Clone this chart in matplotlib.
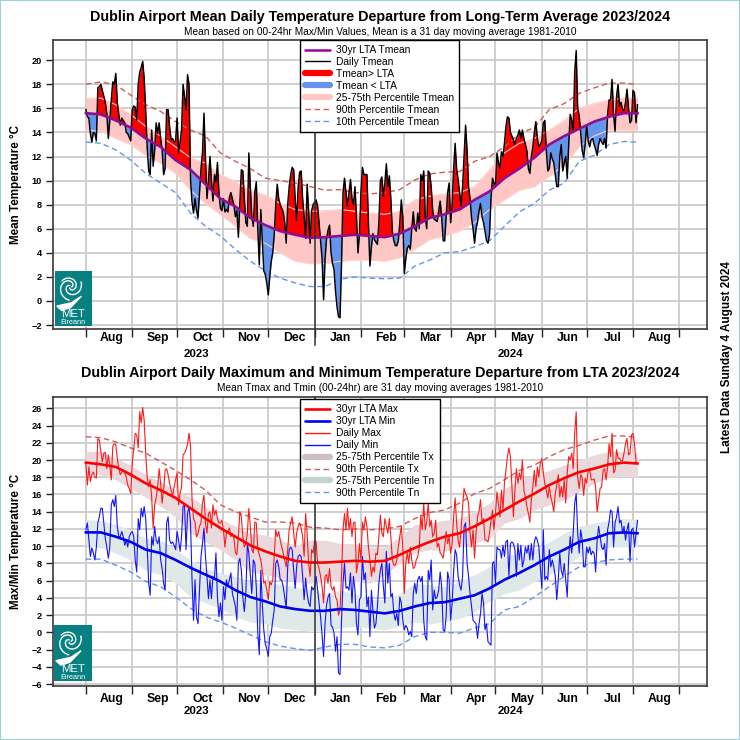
import numpy as np
import matplotlib
matplotlib.use("Agg")
import matplotlib.pyplot as plt
from matplotlib.lines import Line2D
from matplotlib.patches import Polygon, Rectangle

plt.rcParams["font.family"] = ["Liberation Sans", "DejaVu Sans"]

# month labels, first one is Aug 2023
months = ["Aug", "Sep", "Oct", "Nov", "Dec", "Jan", "Feb", "Mar", "Apr", "May", "Jun", "Jul", "Aug"]
month_len = [31, 30, 31, 30, 31, 31, 29, 31, 30, 31, 30, 31, 31]

# daily Tmean, Aug 2023 -> 4 Aug 2024, one row per month
tmean = [
    15.9, 15.3, 15.2, 13.9, 13.2, 14.0, 13.9, 13.3, 17.7, 17.8, 18.0, 17.5, 17.0, 16.5, 15.6, 13.5, 15.0, 16.7, 18.2, 18.0, 18.9, 16.5, 15.5, 14.6, 15.2, 15.0, 14.8, 14.0, 13.9, 13.6, 13.3,
    15.9, 16.2, 16.1, 15.0, 18.0, 19.0, 19.4, 19.9, 18.5, 15.8, 12.8, 10.8, 10.5, 14.2, 11.2, 12.5, 14.8, 13.9, 14.8, 13.5, 12.6, 10.5, 11.0, 15.9, 15.9, 14.5, 13.4, 13.5, 13.2, 13.3,
    15.2, 12.3, 13.2, 14.2, 18.0, 17.0, 15.9, 18.8, 18.0, 10.1, 8.2, 7.3, 8.5, 7.5, 6.9, 9.0, 11.0, 12.3, 15.6, 11.8, 8.5, 10.0, 12.0, 10.0, 8.3, 10.5, 9.9, 11.5, 9.0, 7.7, 7.5,
    8.5, 7.4, 7.6, 7.4, 8.6, 9.0, 8.5, 8.0, 7.0, 7.5, 5.3, 8.0, 10.9, 10.8, 8.5, 6.5, 6.2, 12.3, 9.5, 7.0, 6.2, 9.0, 9.9, 6.0, 3.0, 7.6, 5.0, 2.5, 2.2, 1.5,
    0.5, 2.0, 3.3, 4.0, 5.5, 8.0, 9.7, 8.5, 8.0, 7.7, 7.4, 6.5, 4.8, 8.0, 9.5, 10.5, 11.1, 10.9, 8.5, 6.7, 9.5, 10.7, 10.8, 8.5, 7.0, 5.2, 9.7, 7.5, 4.8, 7.5, 8.0,
    8.2, 8.4, 7.9, 6.5, 5.0, 3.5, 0.1, 3.5, 5.2, 5.9, 6.3, 4.0, 3.1, 2.6, 0.8, -0.5, -1.3, -1.4, 3.0, 9.0, 10.2, 9.0, 7.9, 9.0, 10.1, 8.5, 8.0, 9.5, 7.0, 4.0, 5.5,
    9.0, 11.1, 10.5, 10.5, 10.5, 6.5, 2.9, 4.5, 5.6, 5.1, 4.9, 4.7, 6.5, 10.0, 10.3, 8.7, 9.8, 11.4, 9.5, 10.4, 8.5, 5.8, 5.0, 4.6, 4.6, 5.0, 6.5, 8.4, 7.0,
    2.3, 3.5, 4.4, 4.6, 4.3, 6.0, 7.4, 6.0, 5.8, 7.3, 6.0, 10.5, 10.0, 10.8, 7.0, 6.0, 10.8, 10.6, 9.5, 7.5, 6.8, 6.7, 6.6, 7.5, 8.3, 7.0, 5.0, 5.0, 7.0, 9.0, 9.8,
    6.5, 8.0, 11.0, 13.1, 11.0, 10.1, 9.0, 7.9, 9.5, 12.0, 14.6, 12.5, 9.5, 8.5, 6.9, 6.0, 4.8, 6.0, 6.6, 7.5, 8.1, 7.0, 6.5, 5.8, 5.0, 4.8, 5.5, 8.5, 10.2, 9.8,
    9.5, 12.3, 11.5, 11.0, 12.4, 12.0, 13.1, 14.5, 15.3, 15.2, 14.0, 13.7, 13.4, 13.0, 13.5, 13.8, 14.2, 13.5, 14.2, 13.5, 13.0, 12.5, 11.0, 10.6, 12.0, 12.8, 14.0, 14.9, 13.5, 12.8, 13.0,
    13.3, 14.8, 15.0, 12.5, 10.8, 11.0, 12.3, 11.8, 11.5, 10.5, 9.5, 9.5, 12.0, 13.0, 10.8, 11.5, 12.0, 10.2, 13.0, 15.5, 15.0, 14.0, 19.0, 20.8, 16.0, 15.4, 14.0, 12.5, 11.9, 13.0,
    14.6, 13.3, 12.8, 13.4, 13.5, 13.0, 12.6, 12.1, 13.0, 13.5, 13.2, 13.0, 13.5, 12.7, 15.5, 16.7, 16.7, 18.4, 15.5, 14.1, 17.0, 18.0, 16.2, 16.5, 15.9, 15.8, 16.5, 17.6, 16.0, 14.8, 15.0,
    17.5, 17.3, 14.8, 16.3,
]

tmax = [
    19.6, 17.1, 19.2, 17.5, 18.3, 18.6, 18.0, 17.9, 22.5, 22.3, 21.0, 19.8, 20.8, 20.9, 19.0, 20.6, 19.4, 17.7, 21.6, 21.9, 21.8, 20.2, 19.0, 18.3, 18.6, 18.8, 18.5, 18.0, 17.1, 16.7, 16.1,
    19.6, 21.2, 23.1, 22.9, 21.4, 25.6, 24.3, 26.1, 24.6, 20.8, 18.0, 16.9, 17.7, 15.7, 12.1, 14.8, 15.6, 16.9, 19.0, 17.3, 15.0, 16.5, 18.8, 19.0, 18.3, 17.3, 16.5, 15.7, 16.9, 17.7,
    18.5, 14.8, 16.1, 16.9, 20.6, 20.8, 21.2, 21.8, 23.1, 21.6, 15.4, 13.2, 12.8, 11.1, 11.5, 12.3, 12.7, 15.0, 15.9, 12.7, 11.5, 13.8, 14.0, 12.1, 14.8, 13.6, 14.2, 13.2, 12.7, 12.7, 13.0,
    11.9, 9.9, 11.5, 11.7, 12.1, 11.1, 11.5, 10.9, 9.3, 9.0, 11.1, 14.0, 13.4, 11.1, 9.9, 10.3, 11.5, 14.4, 12.3, 9.6, 9.2, 12.8, 12.7, 9.6, 9.0, 8.4, 7.2, 5.7, 5.9, 4.9,
    3.8, 5.9, 5.5, 6.1, 8.8, 11.9, 11.1, 11.7, 10.7, 9.9, 9.2, 8.4, 7.6, 9.6, 11.9, 12.7, 13.4, 11.5, 9.9, 11.5, 12.3, 12.7, 12.1, 11.1, 8.8, 13.8, 11.5, 8.0, 6.5, 9.6, 9.2,
    10.7, 10.5, 8.0, 7.4, 6.5, 5.3, 3.4, 6.5, 6.7, 5.7, 7.4, 5.3, 4.9, 5.3, 4.1, 3.8, 2.0, 2.6, 6.5, 11.9, 13.8, 11.9, 14.4, 11.9, 13.2, 11.1, 12.7, 12.8, 6.9, 8.0, 10.3,
    8.4, 12.8, 11.9, 13.4, 12.3, 9.9, 8.4, 6.5, 7.6, 7.0, 9.2, 9.0, 11.1, 13.6, 11.5, 11.1, 13.2, 12.3, 11.5, 13.2, 11.1, 8.4, 7.8, 7.8, 8.4, 9.9, 11.1, 12.3, 9.9,
    4.5, 8.0, 9.2, 8.0, 9.9, 8.4, 7.4, 7.6, 8.4, 8.8, 9.9, 13.6, 11.9, 15.0, 11.9, 12.8, 15.0, 12.3, 13.0, 11.1, 11.5, 13.0, 9.9, 10.3, 9.2, 9.0, 8.6, 9.9, 11.7, 10.3, 11.1,
    9.2, 10.3, 13.4, 15.6, 12.7, 10.7, 9.9, 11.9, 14.6, 16.7, 16.1, 15.7, 15.0, 11.5, 9.9, 11.9, 8.6, 11.5, 13.4, 14.0, 15.4, 12.7, 13.2, 10.7, 10.7, 10.5, 11.5, 13.0, 14.2, 11.9,
    13.8, 16.3, 14.8, 13.4, 16.5, 14.2, 17.3, 18.8, 20.4, 21.4, 20.4, 16.9, 13.4, 16.5, 19.0, 17.3, 18.5, 17.7, 20.0, 16.5, 15.7, 14.6, 13.8, 12.8, 15.4, 16.9, 18.8, 16.9, 19.2, 18.0, 19.6,
    20.2, 18.5, 17.3, 16.5, 15.6, 16.9, 15.7, 15.0, 14.0, 16.1, 17.1, 18.3, 15.7, 16.9, 15.7, 17.7, 15.0, 18.5, 20.4, 20.0, 20.8, 19.0, 23.1, 25.6, 18.0, 16.7, 18.3, 18.0, 15.9, 17.9,
    17.3, 18.8, 19.0, 17.7, 17.7, 17.8, 16.9, 14.0, 15.4, 16.7, 16.9, 18.8, 19.0, 17.7, 19.2, 21.9, 20.4, 23.1, 18.5, 18.8, 21.2, 20.2, 20.2, 19.9, 19.9, 20.8, 21.9, 22.5, 20.6, 20.8, 22.9,
    23.1, 21.9, 19.8, 19.6,
]

tmin = [
    11.9, 12.7, 10.7, 8.8, 9.8, 9.2, 8.4, 9.9, 12.7, 13.4, 14.4, 14.4, 12.7, 10.9, 9.9, 8.6, 9.9, 14.8, 15.4, 14.6, 15.9, 12.3, 11.1, 11.1, 11.7, 11.1, 10.1, 10.7, 9.9, 11.1, 11.5,
    11.7, 11.1, 8.4, 7.0, 13.2, 11.9, 14.4, 13.4, 14.6, 13.2, 9.9, 5.7, 4.3, 11.1, 10.1, 12.3, 10.7, 10.3, 11.1, 8.4, 7.4, 5.7, 4.9, 12.7, 13.4, 10.7, 10.3, 10.5, 10.1, 9.6,
    11.7, 10.7, 9.4, 11.1, 14.6, 14.8, 9.6, 13.8, 14.6, 12.7, 6.1, 1.4, 6.1, 1.8, 1.0, 4.9, 8.8, 10.3, 12.1, 8.8, 6.5, 3.9, 6.1, 3.9, 6.5, 6.1, 9.2, 4.1, 1.8, 3.4, 1.4,
    5.3, 3.8, 6.1, 5.3, 6.1, 6.9, 4.5, 3.8, 3.0, 1.4, 8.0, 8.6, 7.2, 4.1, 2.4, 4.5, 10.3, 9.2, 6.7, 4.5, 8.4, 8.0, 5.3, -0.1, -2.6, 7.2, 3.4, 0.3, -1.3, -1.9,
    -2.8, -0.5, -0.1, 1.4, 2.6, 8.0, 8.4, 7.6, 6.1, 6.1, 5.3, 4.1, 2.8, 7.6, 9.6, 9.9, 9.6, 7.2, 5.1, 7.6, 8.8, 9.0, 8.8, 6.5, 3.8, 6.3, 4.5, 3.4, 3.0, 5.3, 4.9,
    5.3, 6.5, 4.9, 3.4, 1.8, -0.3, -2.8, 1.0, 3.2, 4.1, 4.5, 0.8, 0.6, -0.1, -2.2, -0.5, -4.7, -4.9, 1.4, 5.7, 8.0, 5.1, 5.3, 4.9, 6.9, 3.4, 6.5, 4.9, 1.0, -0.3, 3.8,
    4.1, 8.8, 6.1, 6.9, 3.0, 4.1, -0.5, 4.9, 2.6, 0.5, 1.0, 3.0, 5.7, 7.2, 8.0, 5.3, 3.4, 9.4, 5.7, 8.0, 4.1, 4.5, 2.2, 1.4, 2.2, 0.8, 4.1, 3.4, 1.4,
    0.3, 0.8, 0.5, -0.3, 0.1, -0.5, 4.5, 5.7, 4.5, 6.1, 6.5, 5.9, 6.5, 1.4, -0.5, -0.9, 7.2, 6.1, 8.4, 2.6, 4.9, 3.9, 4.1, 4.9, 7.0, 5.3, 0.3, 0.1, 1.8, 7.0, 6.1,
    1.4, 3.4, 7.0, 9.6, 9.0, 6.5, 5.5, 4.9, 6.5, 12.3, 12.7, 8.0, 6.5, 4.5, 3.0, 1.4, 1.2, 1.0, -0.7, 1.0, 2.2, 4.5, 3.4, 0.3, 1.0, -1.1, -1.3, -1.5, 8.0, 8.2,
    5.7, 9.9, 9.6, 9.6, 8.6, 10.1, 8.8, 10.5, 10.7, 6.5, 10.3, 10.5, 10.3, 9.6, 6.5, 10.3, 8.4, 10.1, 7.6, 8.4, 9.9, 9.2, 10.1, 8.4, 10.3, 8.4, 10.5, 11.1, 10.7, 9.9, 7.6,
    5.1, 11.9, 6.1, 6.5, 6.1, 9.6, 7.6, 8.4, 7.6, 6.5, 3.8, 6.1, 9.2, 7.2, 6.5, 8.0, 6.1, 4.1, 8.8, 11.1, 9.2, 11.5, 15.0, 16.1, 11.5, 9.2, 11.9, 10.7, 7.6, 7.6,
    9.9, 9.2, 9.9, 9.0, 9.4, 9.2, 7.0, 10.7, 12.3, 11.1, 9.9, 9.6, 10.3, 7.8, 11.9, 12.8, 14.2, 14.0, 9.9, 12.7, 13.4, 14.6, 12.7, 13.0, 11.5, 12.3, 10.7, 11.9, 12.7, 8.2, 11.9,
    12.1, 9.9, 11.5, 13.0,
]

# smooth climatology curves, read every 10 days
clim_days = list(range(0, 370, 10)) + [369]
lta_mean = [15.6, 15.5, 15.0, 14.4, 13.5, 12.8, 11.7, 10.9, 9.7, 8.5, 7.85, 6.9, 6.3, 5.8, 5.5, 5.25, 5.3, 5.4, 5.5, 5.4, 5.3, 5.6, 6.2, 6.9, 7.2, 7.6, 8.4, 9.1, 10.2, 11.0, 11.9, 13.0, 13.7, 14.3, 14.9, 15.3, 15.6, 15.6]
mean_p75 = [16.85, 16.85, 16.3, 15.5, 14.5, 13.7, 12.8, 11.9, 11.45, 10.5, 9.9, 9.2, 8.8, 8.1, 7.6, 7.45, 7.5, 7.6, 7.45, 7.3, 7.2, 7.45, 8.4, 8.7, 8.9, 9.0, 9.5, 10.9, 12.3, 13.1, 13.5, 14.2, 15.0, 16.0, 16.4, 16.7, 16.85, 16.85]
mean_p25 = [14.2, 14.1, 13.5, 13.0, 12.1, 11.45, 10.6, 9.2, 8.1, 7.2, 6.2, 5.2, 4.8, 4.0, 3.3, 3.1, 3.1, 3.3, 3.4, 3.4, 3.3, 3.6, 4.3, 5.1, 5.4, 5.8, 6.5, 7.6, 8.4, 9.2, 9.5, 10.35, 11.3, 12.8, 13.7, 14.2, 14.2, 14.2]
mean_p90 = [18.0, 18.2, 17.95, 17.1, 16.3, 15.75, 14.9, 14.2, 13.7, 12.3, 11.6, 11.0, 10.2, 10.0, 9.8, 9.5, 9.2, 9.25, 9.0, 8.9, 9.0, 9.25, 10.05, 10.55, 10.7, 10.75, 11.6, 12.0, 12.8, 13.9, 14.4, 15.9, 16.4, 17.25, 17.7, 18.1, 18.1, 18.0]
mean_p10 = [13.2, 13.1, 12.55, 11.7, 10.6, 9.8, 9.0, 7.3, 6.2, 5.4, 4.3, 3.3, 2.5, 1.9, 1.5, 1.2, 1.2, 1.8, 2.0, 1.9, 1.85, 1.9, 2.9, 3.4, 4.0, 4.1, 4.5, 5.0, 6.2, 7.4, 8.1, 9.2, 9.8, 11.6, 12.1, 13.0, 13.25, 13.2]

lta_max = [19.7, 19.5, 19.2, 18.3, 17.3, 16.5, 15.6, 14.4, 13.2, 12.1, 11.1, 10.1, 9.4, 8.8, 8.3, 8.1, 8.1, 8.2, 8.3, 8.2, 8.3, 9.0, 9.8, 10.5, 11.1, 11.5, 12.3, 13.2, 14.2, 15.2, 16.1, 17.1, 17.9, 18.6, 19.0, 19.5, 19.7, 19.6]
lta_min = [11.6, 11.6, 11.1, 10.5, 9.6, 9.2, 8.4, 7.5, 6.7, 5.9, 4.9, 4.1, 3.6, 3.0, 2.7, 2.5, 2.5, 2.7, 2.6, 2.4, 2.2, 2.5, 3.0, 3.4, 3.5, 3.9, 4.3, 5.1, 6.1, 6.9, 7.8, 8.8, 9.6, 10.5, 10.9, 11.5, 11.6, 11.5]
tx_p75 = [21.0, 21.0, 20.2, 19.4, 18.3, 17.5, 16.5, 15.7, 14.6, 13.2, 12.3, 11.5, 11.3, 10.7, 10.1, 10.7, 10.7, 10.3, 10.3, 9.9, 9.9, 11.1, 12.5, 12.7, 13.0, 13.2, 14.0, 15.0, 16.7, 17.7, 18.3, 18.8, 19.4, 20.0, 20.6, 21.0, 21.0, 20.8]
tx_p25 = [18.5, 18.3, 17.7, 16.7, 15.7, 14.6, 13.4, 11.5, 10.5, 9.6, 8.4, 7.0, 6.7, 6.3, 5.9, 5.7, 5.9, 5.9, 5.9, 5.7, 6.7, 8.0, 9.2, 9.6, 9.4, 9.9, 10.3, 10.9, 12.7, 13.2, 14.2, 14.8, 15.4, 16.3, 17.3, 18.0, 18.1, 18.0]
tn_p75 = [13.1, 13.0, 12.5, 11.9, 10.9, 10.7, 9.6, 8.4, 7.4, 6.9, 6.5, 5.9, 5.7, 5.6, 5.3, 4.9, 4.5, 4.9, 4.5, 3.8, 3.8, 4.5, 5.7, 5.5, 5.3, 5.9, 6.7, 7.6, 8.8, 9.2, 9.6, 10.5, 11.5, 12.3, 12.7, 13.0, 13.2, 13.1]
tn_p25 = [10.1, 9.8, 9.2, 8.4, 7.2, 6.7, 5.7, 4.1, 3.4, 2.8, 1.8, 1.2, 1.0, 0.5, 0.3, 0.1, 0.1, 0.5, 0.7, 0.5, 0.3, 0.7, 1.2, 1.0, 1.2, 1.6, 2.4, 3.6, 4.5, 4.9, 5.9, 6.7, 7.6, 8.8, 9.4, 9.9, 9.9, 9.9]
tx_p90 = [22.7, 22.6, 22.1, 21.4, 20.8, 19.8, 18.8, 17.7, 16.5, 14.8, 14.0, 13.4, 12.8, 12.8, 12.7, 12.2, 12.1, 11.9, 12.0, 11.9, 12.0, 12.3, 13.2, 13.9, 14.2, 15.0, 16.1, 16.7, 17.7, 18.8, 19.4, 20.4, 21.2, 21.7, 22.3, 22.8, 22.8, 22.6]
tn_p90 = [8.5, 8.5, 7.8, 7.0, 5.9, 5.3, 4.1, 2.8, 1.8, 1.2, 0.5, -0.3, -1.1, -1.6, -1.9, -2.1, -1.7, -1.4, -1.4, -1.7, -1.8, -1.5, -0.5, 0.0, 0.0, -0.1, 0.5, 1.0, 2.6, 3.0, 4.1, 5.3, 6.5, 7.6, 8.1, 8.4, 8.5, 8.5]

days = np.arange(len(tmean))
month_start = np.concatenate([[0], np.cumsum(month_len)])
month_mid = month_start[:-1] + np.array(month_len) / 2 + 2
GRID = "#c9c9c9"


def rect(l, t, r, b):
    # pixel box to figure fraction
    return [l / 740, 1 - b / 740, (r - l) / 740, (b - t) / 740]


def setup_axes(ax, ylo, yhi, ticks, month_pad):
    ax.set_xlim(-22, 415.5)
    ax.set_ylim(ylo, yhi)
    ax.set_axisbelow(True)
    ax.set_xticks(month_start)
    ax.set_xticklabels([])
    ax.set_xticks(month_mid, months, minor=True, fontweight="bold", fontsize=8.8)
    ax.tick_params(axis="x", which="minor", length=0, pad=month_pad)
    ax.tick_params(axis="x", which="major", length=5.5, width=1, color="#222222")
    ax.set_yticks(ticks)
    ax.tick_params(axis="y", length=5, width=1, color="#222222", labelsize=6.6, pad=3)
    for lab in ax.get_yticklabels():
        lab.set_fontweight("bold")
    ax.grid(True, which="major", color=GRID, lw=1.25)
    for side in ax.spines.values():
        side.set_linewidth(1.2)
        side.set_color("#3a3a3a")


def draw_logo(box, town):
    lg = fig.add_axes(rect(*box), zorder=8)
    lg.set_xlim(0, 1)
    lg.set_ylim(0, 1)
    lg.axis("off")
    lg.add_patch(Rectangle((0, 0), 1, 1, color="#068080"))
    for a0, r0, r1 in [(0, 0.04, 0.36), (2.1, 0.04, 0.32), (4.2, 0.04, 0.28)]:
        th = np.linspace(0, 4.6, 80)
        r = np.linspace(r0, r1, 80)
        lg.plot(0.42 + r * np.cos(th + a0), 0.71 + 0.68 * r * np.sin(th + a0), color="white", lw=1.0)
    lg.add_patch(Polygon([[0.05, 0.36], [0.45, 0.42], [0.72, 0.54], [0.42, 0.33], [0.18, 0.28]], color="white"))
    lg.text(0.5, 0.205, "MET", color="white", fontsize=8.2, ha="center", va="center")
    lg.text(0.5, 0.065, town, color="white", fontsize=5.3, ha="center", va="center")


def add_legend(ax, entries, box):
    handles = []
    for label, color, lw, ls in entries:
        handles.append(Line2D([], [], color=color, lw=lw, ls=ls, solid_capstyle="round", label=label))
    leg = ax.legend(handles=handles, loc="upper left", bbox_to_anchor=(box[0] / 740, 1 - box[1] / 740),
                    bbox_transform=fig.transFigure, fontsize=7.35, frameon=True, fancybox=False,
                    edgecolor="black", framealpha=1, handlelength=2.45, handletextpad=0.6,
                    labelspacing=0.19, borderpad=0.5, borderaxespad=0)
    leg.get_frame().set_linewidth(1.0)
    leg.set_zorder(20)


fig = plt.figure(figsize=(7.4, 7.4), dpi=100)
fig.patches.append(Rectangle((0, 0), 1, 1, transform=fig.transFigure, fill=False, ec="#9ad4d8", lw=1.5))

# top panel
ax1 = fig.add_axes(rect(53, 40, 707, 329.5))
setup_axes(ax1, -2.37, 21.68, list(range(-2, 21, 2)), 1.6)
ax1.fill_between(clim_days, mean_p25, mean_p75, color="#ffc6c6", lw=0, zorder=2)

above = Polygon(list(zip(clim_days, lta_mean)) + [(369, 40), (0, 40)], transform=ax1.transData)
below = Polygon(list(zip(clim_days, lta_mean)) + [(369, -40), (0, -40)], transform=ax1.transData)
warm = ax1.fill_between(days, -40, tmean, color="#ff0000", lw=0, zorder=3)
warm.set_clip_path(above)
cold = ax1.fill_between(days, tmean, 40, color="#6495ed", lw=0, zorder=3)
cold.set_clip_path(below)

ax1.plot(clim_days, mean_p75, color="#ffd2c8", lw=0.8, zorder=4)
ax1.plot(clim_days, mean_p25, color="#ffd2c8", lw=0.8, zorder=4)
ax1.plot(clim_days, mean_p90, color="#cd5c5c", lw=1.0, ls=(0, (4, 2.5)), zorder=4)
ax1.plot(clim_days, mean_p10, color="#6495ed", lw=1.0, ls=(0, (4, 2.5)), zorder=4)
ax1.plot(days, tmean, color="black", lw=1.05, zorder=5)
ax1.plot(clim_days, lta_mean, color="#8f0f8f", lw=1.9, zorder=6)
ax1.set_ylabel("Mean Temperature °C", fontweight="bold", fontsize=8.4, labelpad=7)
add_legend(ax1, [
    ("30yr LTA Tmean", "#a000a0", 1.8, "-"),
    ("Daily Tmean", "black", 1.0, "-"),
    ("Tmean> LTA", "#ff0000", 4.5, "-"),
    ("Tmean < LTA", "#6495ed", 4.5, "-"),
    ("25-75th Percentile Tmean", "#ffc6c6", 4.5, "-"),
    ("90th Percentile Tmean", "#cd5c5c", 1.0, (0, (4, 2.5))),
    ("10th Percentile Tmean", "#6495ed", 1.0, (0, (4, 2.5))),
], (300, 40))

# bottom panel
ax2 = fig.add_axes(rect(53, 396.7, 707, 686))
setup_axes(ax2, -6.23, 27.35, list(range(-6, 27, 2)), 5.2)
ax2.fill_between(clim_days, tx_p25, tx_p75, color="#ead9dc", lw=0, zorder=2)
ax2.fill_between(clim_days, tn_p25, tn_p75, color="#dfeae8", lw=0, zorder=2)
ax2.plot(clim_days, tx_p90, color="#cd5c5c", lw=1.0, ls=(0, (4, 2.5)), zorder=3)
ax2.plot(clim_days, tn_p90, color="#6495ed", lw=1.0, ls=(0, (4, 2.5)), zorder=3)
ax2.plot(days, tmax, color="#ff1a1a", lw=0.8, zorder=4)
ax2.plot(days, tmin, color="#1414ff", lw=0.8, zorder=4)
ax2.plot(clim_days, lta_max, color="#ff0000", lw=1.9, zorder=5)
ax2.plot(clim_days, lta_min, color="#0000ee", lw=1.9, zorder=5)
ax2.set_ylabel("Max/Min Temperature °C", fontweight="bold", fontsize=8.4, labelpad=7)
add_legend(ax2, [
    ("30yr LTA Max", "#ff0000", 1.9, "-"),
    ("30yr LTA Min", "#0000ee", 1.9, "-"),
    ("Daily Max", "#ff1a1a", 1.0, "-"),
    ("Daily Min", "#1414ff", 1.0, "-"),
    ("25-75th Percentile Tx", "#cfbfc4", 4.5, "-"),
    ("90th Percentile Tx", "#cd5c5c", 1.0, (0, (4, 2.5))),
    ("25-75th Percentile Tn", "#c3d2cf", 4.5, "-"),
    ("90th Percentile Tn", "#6495ed", 1.0, (0, (4, 2.5))),
], (300, 399.3))

# year boundary runs down past the axis
for ax, low in [(ax1, 345), (ax2, 695)]:
    b = ax.get_position()
    ylow = ((1 - low / 740) - b.y0) / b.height
    ax.plot([153, 153], [ylow, 1], color="#333333", lw=1.1, clip_on=False,
            transform=ax.get_xaxis_transform(), zorder=7)

draw_logo((55, 271, 91.7, 325.7), "Éireann")
draw_logo((54, 625, 91.7, 680.7), "Éireann")

fig.text(380 / 740, 1 - 17 / 740, "Dublin Airport Mean Daily Temperature Departure from Long-Term Average 2023/2024",
         ha="center", va="center", fontweight="bold", fontsize=10.3)
fig.text(380 / 740, 1 - 32 / 740, "Mean based on 00-24hr Max/Min Values, Mean is a 31 day moving average 1981-2010",
         ha="center", va="center", fontsize=7.25)
fig.text(380 / 740, 1 - 373 / 740, "Dublin Airport Daily Maximum and Minimum Temperature Departure from LTA 2023/2024",
         ha="center", va="center", fontweight="bold", fontsize=10.3)
fig.text(380 / 740, 1 - 388 / 740, "Mean Tmax and Tmin (00-24hr) are 31 day moving averages 1981-2010",
         ha="center", va="center", fontsize=7.25)
for label, xp, yp in [("2023", 196, 354), ("2024", 510, 354), ("2023", 196, 711), ("2024", 510, 711)]:
    fig.text(xp / 740, 1 - yp / 740, label, ha="center", va="center", fontweight="bold", fontsize=8.2)
fig.text(727 / 740, 1 - 357 / 740, "Latest Data Sunday 4 August 2024", rotation=90,
         ha="center", va="center", fontweight="bold", fontsize=8.5)

assert len(tmean) == len(tmax) == len(tmin) == 370
assert all(len(s) == len(clim_days) for s in [lta_mean, mean_p75, mean_p25, mean_p90, mean_p10, lta_max, lta_min, tx_p75, tx_p25, tn_p75, tn_p25, tx_p90, tn_p90])

fig.savefig("out.png", dpi=100)
